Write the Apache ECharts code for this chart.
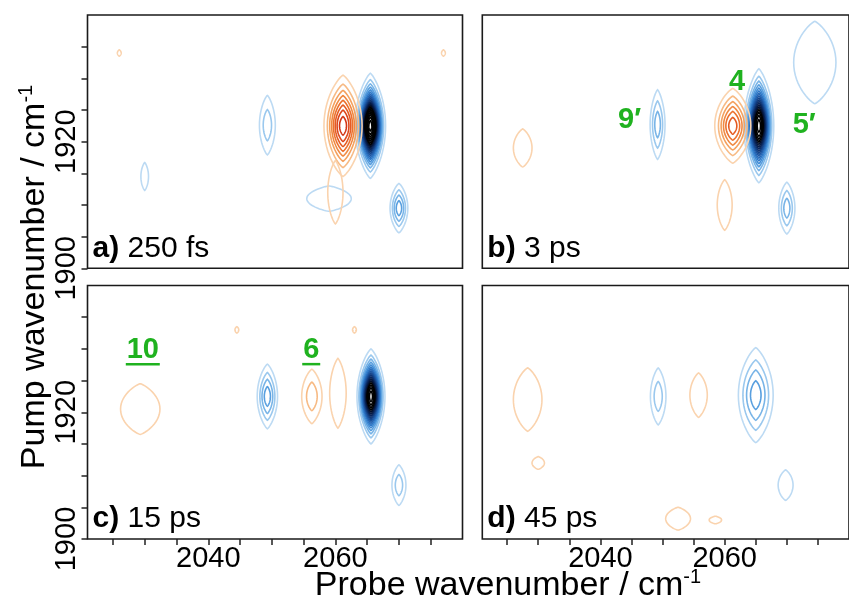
<!DOCTYPE html>
<html><head><meta charset="utf-8">
<script src="https://cdn.jsdelivr.net/npm/echarts@6/dist/echarts.min.js"></script>
<style>html,body{margin:0;padding:0;background:#fff}#c{width:849px;height:605px}</style>
</head><body><div id="c"></div>
<script>
// ---------- data ----------
const probeRange = [2021, 2080];
const pumpRange = [1900, 1940];
const probeTicks = [2025, 2030, 2035, 2040, 2045, 2050, 2055, 2060, 2065, 2070, 2075];
const probeLabels = [2040, 2060];
const pumpTicks = [1900, 1905, 1910, 1915, 1920, 1925, 1930, 1935];
const pumpLabels = [1900, 1920];
const panelTags = ['a)', 'b)', 'c)', 'd)'];
const panelDelays = ['250 fs', '3 ps', '15 ps', '45 ps'];

// peak: [probe, pump, outer half-width (probe), outer half-width (pump), contour levels, sign (-1 blue / +1 orange)]
const peaks250fs = [
  [2065.5, 1922.5, 2.4, 8.3, 20, -1],
  [2061.2, 1922.5, 3.0, 8.0, 8, 1],
  [2070.0, 1909.5, 1.4, 3.9, 4, -1],
  [2049.3, 1922.6, 1.25, 4.7, 2, -1],
  [2030.0, 1914.5, 0.6, 2.2, 1, -1],
  [2059.0, 1911.0, 3.5, 2.0, 1, -1],
  [2060.0, 1912.0, 1.2, 5.0, 1, 1],
  [2026.0, 1934.0, 0.3, 0.5, 1, 1],
  [2077.0, 1934.0, 0.3, 0.5, 1, 1]
];
const peaks3ps = [
  [2065.5, 1922.5, 2.4, 9.0, 17, -1],
  [2061.3, 1922.5, 2.9, 5.9, 6, 1],
  [2049.2, 1922.7, 1.2, 5.5, 3, -1],
  [2070.0, 1909.5, 1.3, 4.1, 3, -1],
  [2027.5, 1919.0, 1.5, 3.0, 1, 1],
  [2074.5, 1932.5, 3.4, 6.5, 1, -1],
  [2060.0, 1910.0, 1.2, 4.0, 1, 1]
];
const peaks15ps = [
  [2065.6, 1922.5, 2.2, 7.5, 17, -1],
  [2049.3, 1922.5, 1.6, 5.1, 4, -1],
  [2056.3, 1922.5, 1.6, 4.3, 2, 1],
  [2060.4, 1923.0, 1.3, 5.5, 1, 1],
  [2029.3, 1920.5, 3.1, 4.0, 1, 1],
  [2070.0, 1908.5, 1.1, 3.2, 2, -1],
  [2044.5, 1933.0, 0.3, 0.5, 1, 1],
  [2063.0, 1933.0, 0.3, 0.5, 1, 1]
];
const peaks45ps = [
  [2065.0, 1922.7, 2.8, 7.5, 4, -1],
  [2049.3, 1922.5, 1.25, 4.5, 2, -1],
  [2055.8, 1922.7, 1.4, 3.5, 1, 1],
  [2028.3, 1922.0, 2.3, 5.0, 1, 1],
  [2069.8, 1908.5, 1.2, 2.4, 1, -1],
  [2030.0, 1912.0, 1.0, 1.0, 1, 1],
  [2052.5, 1903.2, 2.0, 1.8, 1, 1],
  [2058.5, 1903.0, 1.0, 0.6, 1, 1]
];
// annotation: [probe, pump, text, underlined]
const notes3ps = [[2044.7, 1923.4, '9′', 0], [2062.0, 1929.4, '4', 0], [2072.8, 1922.6, '5′', 0]];
const notes15ps = [[2029.7, 1929.8, '10', 1], [2056.2, 1929.8, '6', 1]];

// ---------- style ----------
const bluePal = ['#bcdaf3', '#9ac8ee', '#78b4e7', '#589fdf', '#3f8bd5', '#2e78c7', '#2466b5', '#1c55a1', '#15458b', '#0f3573', '#0a265b', '#061a43', '#030f2b', '#000000'];
const orangePal = ['#fad3ae', '#f7ba84', '#f4a15f', '#f08942', '#ec712e', '#e55b22', '#dd471b', '#d33616', '#c72612'];
const FONT = 'Liberation Sans, Arial, Helvetica, sans-serif';
const GREEN = '#1fb21f';

const grids = [
  {left: 87.5, top: 15, width: 375, height: 253.3},
  {left: 482.3, top: 15, width: 376, height: 253.3},
  {left: 87.5, top: 285.5, width: 375, height: 253.5},
  {left: 482.3, top: 285.5, width: 376, height: 253.5}
];

function renderContours(params, api) {
  const cx = api.value(0), cy = api.value(1), rx = api.value(2), ry = api.value(3);
  const n = api.value(4), sg = api.value(5);
  const pal = sg < 0 ? bluePal : orangePal;
  const A = n + 0.6;
  const d1 = Math.sqrt(Math.log(A));
  const children = [];
  for (let k = 1; k <= n; k++) {
    const s = Math.sqrt(Math.log(A / k)) / d1;
    const pts = [];
    for (let i = 0; i < 60; i++) {
      const t = i / 60 * 2 * Math.PI;
      const c = Math.cos(t), sn = Math.sin(t);
      const ex = Math.sign(c) * Math.pow(Math.abs(c), 1.6);
      pts.push(api.coord([cx + rx * s * ex, cy + ry * s * sn]));
    }
    children.push({type: 'polygon', shape: {points: pts},
      style: {fill: null, stroke: pal[Math.min(k - 1, pal.length - 1)], lineWidth: 1.6}});
  }
  return {type: 'group', children};
}
function renderNotes(notes) {
  return function (params, api) {
    const p = api.coord([api.value(0), api.value(1)]);
    const note = notes[params.dataIndex];
    const ch = [{type: 'text', x: p[0], y: p[1],
      style: {text: note[2], fill: GREEN, font: 'bold 29px ' + FONT, align: 'center', verticalAlign: 'middle'}}];
    if (note[3]) {
      const w = note[2].length * 16 + 2;
      ch.push({type: 'line', shape: {x1: p[0] - w / 2, y1: p[1] + 14, x2: p[0] + w / 2, y2: p[1] + 14},
        style: {stroke: GREEN, lineWidth: 2.5}});
    }
    return {type: 'group', children: ch};
  };
}

const tickStyle = {lineStyle: {color: '#222', width: 1.5}, length: 6, inside: false};
const xAxes = grids.map((g, i) => ({
  type: 'value', gridIndex: i, min: probeRange[0], max: probeRange[1],
  axisLine: {show: false}, splitLine: {show: false},
  axisTick: i >= 2 ? Object.assign({show: true, customValues: probeTicks}, tickStyle) : {show: false},
  axisLabel: i >= 2 ? {show: true, customValues: probeLabels, fontSize: 29, color: '#000', fontFamily: FONT, margin: 5,
    formatter: v => String(v)} : {show: false}
}));
const yAxes = grids.map((g, i) => ({
  type: 'value', gridIndex: i, min: pumpRange[0], max: pumpRange[1],
  axisLine: {show: false}, splitLine: {show: false},
  axisTick: i % 2 === 0 ? Object.assign({show: true, customValues: pumpTicks}, tickStyle) : {show: false},
  axisLabel: {show: false}
}));

const peakSets = [peaks250fs, peaks3ps, peaks15ps, peaks45ps];
const series = peakSets.map((data, i) => ({
  type: 'custom', xAxisIndex: i, yAxisIndex: i, clip: true, silent: true,
  renderItem: renderContours, data: data, encode: {x: 0, y: 1}
}));
series.push({type: 'custom', xAxisIndex: 1, yAxisIndex: 1, silent: true, renderItem: renderNotes(notes3ps),
  data: notes3ps.map(n => [n[0], n[1]]), encode: {x: 0, y: 1}, z: 5});
series.push({type: 'custom', xAxisIndex: 2, yAxisIndex: 2, silent: true, renderItem: renderNotes(notes15ps),
  data: notes15ps.map(n => [n[0], n[1]]), encode: {x: 0, y: 1}, z: 5});

const graphics = grids.map((g, i) => ({
  type: 'text', left: g.left + 5, top: g.top + g.height - 35,
  style: {text: '{b|' + panelTags[i] + '} ' + panelDelays[i], font: '30px ' + FONT, fill: '#000',
    rich: {b: {fontWeight: 'bold', fontSize: 30, fontFamily: FONT}}}, z: 10
}));
graphics.push({type: 'text', x: 35, y: 277, rotation: Math.PI / 2,
  style: {text: '{m|Pump wavenumber / cm}{s|-1}', align: 'center', verticalAlign: 'middle', fill: '#000',
    rich: {m: {fontSize: 34, fontFamily: FONT, lineHeight: 38}, s: {fontSize: 20, fontFamily: FONT, verticalAlign: 'top', lineHeight: 22}}}});
graphics.push({type: 'text', x: 508, y: 586,
  style: {text: '{m|Probe wavenumber / cm}{s|-1}', align: 'center', verticalAlign: 'middle', fill: '#000',
    rich: {m: {fontSize: 34, fontFamily: FONT, lineHeight: 38}, s: {fontSize: 20, fontFamily: FONT, verticalAlign: 'top', lineHeight: 22}}}});

const chart = echarts.init(document.getElementById('c'), null, {renderer: 'canvas'});
chart.setOption({
  animation: false,
  backgroundColor: '#fff',
  grid: grids.map(g => Object.assign({show: true, borderColor: '#1a1a1a', borderWidth: 1.6, backgroundColor: 'transparent', containLabel: false}, g)),
  xAxis: xAxes, yAxis: yAxes, series: series, graphic: graphics
});

// pump tick labels, placed through the library's own axis scale (left panels a and c)
const yLabelGraphics = [];
[0, 2].forEach(gi => {
  pumpLabels.forEach(v => {
    const p = chart.convertToPixel({gridIndex: gi}, [probeRange[0], v]);
    yLabelGraphics.push({type: 'text', x: p[0] - 21, y: p[1], rotation: Math.PI / 2,
      style: {text: String(v), font: '29px ' + FONT, fill: '#000', align: 'center', verticalAlign: 'middle'}});
  });
});
chart.setOption({graphic: graphics.concat(yLabelGraphics)});
</script></body></html>
